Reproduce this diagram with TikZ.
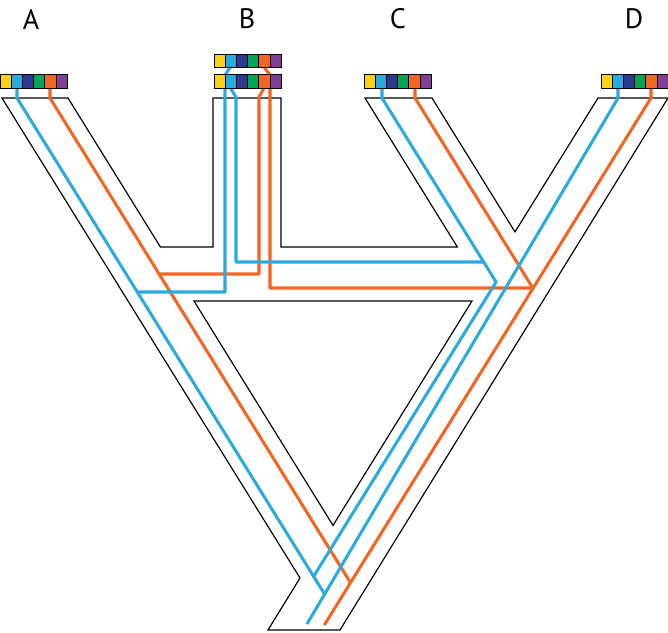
\documentclass[tikz,border=0pt]{standalone}
\usepackage{fontspec}
\newfontfamily\labelfont{PT Sans}
\usetikzlibrary{calc}
\definecolor{gyellow}{HTML}{FCD116}
\definecolor{gcyan}{HTML}{29ABE2}
\definecolor{gnavy}{HTML}{2B3990}
\definecolor{ggreen}{HTML}{00A651}
\definecolor{gorange}{HTML}{F26522}
\definecolor{gpurple}{HTML}{7F3F98}
\def\genebar(#1,#2){\foreach \c [count=\i from 0] in {gyellow,gcyan,gnavy,ggreen,gorange,gpurple}
	\draw[fill=\c, line width=0.4pt] ({#1+\i*11.17},#2) rectangle ++(11.17,13.5);}

\begin{document}
\begin{tikzpicture}[x=0.03cm, y=-0.03cm,
	species/.style={line width=1pt, line join=miter},
	blueline/.style={line width=2.6pt, color=gcyan, line join=round},
	orangeline/.style={line width=2.6pt, color=gorange, line join=round},
	taxon/.style={font=\labelfont\fontsize{24}{28}\selectfont}]
		%%%%% START %%%%%
		\useasboundingbox (0,0) rectangle (668,632);
		
		\node[taxon] (labA) at (31,19) {A};
		\node[taxon] (labB) at (247,19) {B};
		\node[taxon] (labC) at (398,19) {C};
		\node[taxon] (labD) at (634,19) {D};
		
		% species tree
		\draw[species] (2,98) -- (68,98) -- (160.4,247) -- (213,247) -- (213,98) -- (281,98) -- (281,247)
			-- (457.4,247) -- (365,98) -- (432,98) -- (515,231.9) -- (598,98) -- (668,98)
			-- (340,630) -- (268,630) -- (300,578) -- cycle;
		\draw[species] (194,301) -- (472,301) -- (333,525.4) -- cycle;
		
		% gene copies, orange
		\draw[orangeline] (50,88) -- (50,98) -- (350.5,582.7);
		\draw[orangeline] (415,88) -- (415,98) -- (533,288.3);
		\draw[orangeline] (651,88) -- (651,98) -- (324.3,625);
		\draw[orangeline] (264,67) -- (270,75) -- (270,288) -- (532.8,288);
		\draw[orangeline] (264,88) -- (259,97) -- (259,274) -- (159.1,274);
		
		% gene copies, blue
		\draw[blueline] (17,88) -- (17,98) -- (324.7,594.3);
		\draw[blueline] (382,88) -- (382,98) -- (496.1,282) -- (313.6,576.4);
		\draw[blueline] (618,88) -- (618,98) -- (307,624);
		\draw[blueline] (230.5,67) -- (225,75) -- (225,292) -- (137.3,292);
		\draw[blueline] (230.5,88) -- (236,97) -- (236,262) -- (483.7,262);
		
		% genomes
		\genebar(0,74.5)
		\genebar(214,54)
		\genebar(214,74.5)
		\genebar(364,74.5)
		\genebar(601,74.5)
		
		%%%%% END %%%%%
\end{tikzpicture}
\end{document}
